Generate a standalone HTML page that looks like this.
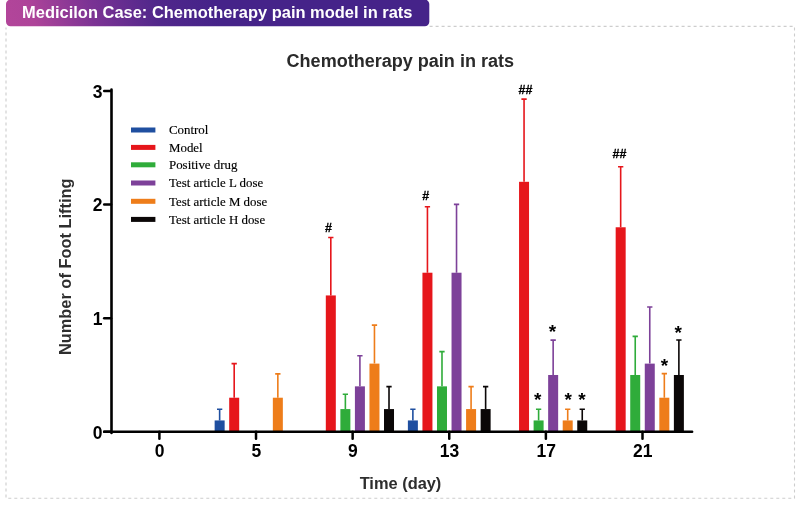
<!DOCTYPE html>
<html lang="en">
<head>
<meta charset="utf-8">
<title>Medicilon Case: Chemotherapy pain model in rats</title>
<style>
html,body{margin:0;padding:0;background:#fff;}
body{width:800px;height:505px;overflow:hidden;position:relative;font-family:"Liberation Sans",Arial,sans-serif;}
svg{position:absolute;left:0;top:0;display:block;}
.hd{font:bold 16.47px "Liberation Sans",Arial,sans-serif;fill:#fff;}
.tt{font:bold 18.05px "Liberation Sans",Arial,sans-serif;fill:#2a2a2a;}
.ax{font:bold 16.4px "Liberation Sans",Arial,sans-serif;fill:#2e2e2e;}
.tk{font:bold 17.5px "Liberation Sans",Arial,sans-serif;fill:#000;}
.lg{font:12.9px "Liberation Serif","Times New Roman",serif;fill:#000;stroke:#000;stroke-width:.15px;}
.hs{font:bold 12.5px "Liberation Sans",Arial,sans-serif;fill:#000;stroke:#000;stroke-width:.3px;}
.st{font:bold 19px "Liberation Sans",Arial,sans-serif;fill:#000;}
</style>
</head>
<body>
<svg width="800" height="505" viewBox="0 0 800 505">
<defs>
<linearGradient id="hg" gradientUnits="userSpaceOnUse" x1="6" y1="13" x2="199.8" y2="-46.4">
<stop offset="0" stop-color="#b2459a"/>
<stop offset="0.12" stop-color="#ae4499"/>
<stop offset="0.40" stop-color="#7c3394"/>
<stop offset="0.72" stop-color="#50278b"/>
<stop offset="1" stop-color="#452389"/>
</linearGradient>
</defs>
<path d="M429.6 26.4H794.5V498.3H6V27.5" fill="none" stroke="#cdcdcd" stroke-width="1.1" stroke-dasharray="3 3"/>
<rect x="6" y="-0.4" width="423.3" height="26.7" rx="4.5" ry="4.5" fill="url(#hg)"/>
<text x="22.1" y="17.6" class="hd">Medicilon Case: Chemotherapy pain model in rats</text>
<text x="400.3" y="66.8" text-anchor="middle" class="tt">Chemotherapy pain in rats</text>
<text transform="translate(71 266.8) rotate(-90)" text-anchor="middle" class="ax">Number of Foot Lifting</text>
<text x="400.5" y="489" text-anchor="middle" class="ax">Time (day)</text>
<rect x="214.64" y="420.44" width="10" height="11.36" fill="#1f4fa0"/>
<path d="M219.64 420.44V409.3M216.99 409.3H222.29" stroke="#1f4fa0" stroke-width="1.6" fill="none"/>
<rect x="229.19" y="397.71" width="10" height="34.09" fill="#e6161b"/>
<path d="M234.19 397.71V363.6M231.54 363.6H236.84" stroke="#e6161b" stroke-width="1.6" fill="none"/>
<rect x="272.84" y="397.71" width="10" height="34.09" fill="#ee7d1a"/>
<path d="M277.84 397.71V373.9M275.19 373.9H280.49" stroke="#ee7d1a" stroke-width="1.6" fill="none"/>
<rect x="325.81" y="295.44" width="10" height="136.36" fill="#e6161b"/>
<path d="M330.81 295.44V237.5M328.17 237.5H333.46" stroke="#e6161b" stroke-width="1.6" fill="none"/>
<rect x="340.37" y="409.07" width="10" height="22.73" fill="#2fac3a"/>
<path d="M345.37 409.07V394.2M342.72 394.2H348.01" stroke="#2fac3a" stroke-width="1.6" fill="none"/>
<rect x="354.91" y="386.35" width="10" height="45.45" fill="#7d4199"/>
<path d="M359.91 386.35V355.8M357.26 355.8H362.56" stroke="#7d4199" stroke-width="1.6" fill="none"/>
<rect x="369.46" y="363.62" width="10" height="68.18" fill="#ee7d1a"/>
<path d="M374.46 363.62V325.1M371.81 325.1H377.11" stroke="#ee7d1a" stroke-width="1.6" fill="none"/>
<rect x="384.01" y="409.07" width="10" height="22.73" fill="#0b0707"/>
<path d="M389.01 409.07V386.6M386.37 386.6H391.66" stroke="#0b0707" stroke-width="1.6" fill="none"/>
<rect x="407.88" y="420.44" width="10" height="11.36" fill="#1f4fa0"/>
<path d="M412.88 420.44V409.2M410.24 409.2H415.53" stroke="#1f4fa0" stroke-width="1.6" fill="none"/>
<rect x="422.44" y="272.72" width="10" height="159.08" fill="#e6161b"/>
<path d="M427.44 272.72V206.8M424.79 206.8H430.08" stroke="#e6161b" stroke-width="1.6" fill="none"/>
<rect x="436.99" y="386.35" width="10" height="45.45" fill="#2fac3a"/>
<path d="M441.99 386.35V351.6M439.34 351.6H444.63" stroke="#2fac3a" stroke-width="1.6" fill="none"/>
<rect x="451.53" y="272.72" width="10" height="159.08" fill="#7d4199"/>
<path d="M456.53 272.72V204.4M453.88 204.4H459.18" stroke="#7d4199" stroke-width="1.6" fill="none"/>
<rect x="466.08" y="409.07" width="10" height="22.73" fill="#ee7d1a"/>
<path d="M471.08 409.07V386.6M468.44 386.6H473.73" stroke="#ee7d1a" stroke-width="1.6" fill="none"/>
<rect x="480.63" y="409.07" width="10" height="22.73" fill="#0b0707"/>
<path d="M485.63 409.07V386.6M482.99 386.6H488.28" stroke="#0b0707" stroke-width="1.6" fill="none"/>
<rect x="519.05" y="181.81" width="10" height="249.99" fill="#e6161b"/>
<path d="M524.05 181.81V99.1M521.40 99.1H526.70" stroke="#e6161b" stroke-width="1.6" fill="none"/>
<rect x="533.61" y="420.44" width="10" height="11.36" fill="#2fac3a"/>
<path d="M538.61 420.44V409.3M535.96 409.3H541.25" stroke="#2fac3a" stroke-width="1.6" fill="none"/>
<rect x="548.15" y="374.99" width="10" height="56.81" fill="#7d4199"/>
<path d="M553.15 374.99V340.1M550.50 340.1H555.80" stroke="#7d4199" stroke-width="1.6" fill="none"/>
<rect x="562.71" y="420.44" width="10" height="11.36" fill="#ee7d1a"/>
<path d="M567.71 420.44V409.3M565.06 409.3H570.36" stroke="#ee7d1a" stroke-width="1.6" fill="none"/>
<rect x="577.25" y="420.44" width="10" height="11.36" fill="#0b0707"/>
<path d="M582.25 420.44V409.3M579.61 409.3H584.90" stroke="#0b0707" stroke-width="1.6" fill="none"/>
<rect x="615.67" y="227.27" width="10" height="204.53" fill="#e6161b"/>
<path d="M620.67 227.27V166.7M618.02 166.7H623.32" stroke="#e6161b" stroke-width="1.6" fill="none"/>
<rect x="630.23" y="374.99" width="10" height="56.81" fill="#2fac3a"/>
<path d="M635.23 374.99V336.4M632.58 336.4H637.88" stroke="#2fac3a" stroke-width="1.6" fill="none"/>
<rect x="644.77" y="363.62" width="10" height="68.18" fill="#7d4199"/>
<path d="M649.77 363.62V307.0M647.12 307.0H652.42" stroke="#7d4199" stroke-width="1.6" fill="none"/>
<rect x="659.33" y="397.71" width="10" height="34.09" fill="#ee7d1a"/>
<path d="M664.33 397.71V373.6M661.68 373.6H666.98" stroke="#ee7d1a" stroke-width="1.6" fill="none"/>
<rect x="673.88" y="374.99" width="10" height="56.81" fill="#0b0707"/>
<path d="M678.88 374.99V340.0M676.23 340.0H681.52" stroke="#0b0707" stroke-width="1.6" fill="none"/>
<path d="M111.5 89.6V432.90000000000003M104.2 431.8H692.1" stroke="#000" stroke-width="2.6" fill="none" stroke-linecap="round"/>
<path d="M104.2 431.8H111" stroke="#000" stroke-width="2.5" stroke-linecap="round"/>
<text x="102.6" y="438.50" text-anchor="end" class="tk">0</text>
<path d="M104.2 318.17H111" stroke="#000" stroke-width="2.5" stroke-linecap="round"/>
<text x="102.6" y="324.87" text-anchor="end" class="tk">1</text>
<path d="M104.2 204.54H111" stroke="#000" stroke-width="2.5" stroke-linecap="round"/>
<text x="102.6" y="211.24" text-anchor="end" class="tk">2</text>
<path d="M104.2 90.91H111" stroke="#000" stroke-width="2.5" stroke-linecap="round"/>
<text x="102.6" y="97.61" text-anchor="end" class="tk">3</text>
<path d="M159.40 431.8V438.8" stroke="#000" stroke-width="2.5" stroke-linecap="round"/>
<text x="159.70" y="457.3" text-anchor="middle" class="tk">0</text>
<path d="M256.02 431.8V438.8" stroke="#000" stroke-width="2.5" stroke-linecap="round"/>
<text x="256.32" y="457.3" text-anchor="middle" class="tk">5</text>
<path d="M352.64 431.8V438.8" stroke="#000" stroke-width="2.5" stroke-linecap="round"/>
<text x="352.94" y="457.3" text-anchor="middle" class="tk">9</text>
<path d="M449.26 431.8V438.8" stroke="#000" stroke-width="2.5" stroke-linecap="round"/>
<text x="449.56" y="457.3" text-anchor="middle" class="tk">13</text>
<path d="M545.88 431.8V438.8" stroke="#000" stroke-width="2.5" stroke-linecap="round"/>
<text x="546.18" y="457.3" text-anchor="middle" class="tk">17</text>
<path d="M642.50 431.8V438.8" stroke="#000" stroke-width="2.5" stroke-linecap="round"/>
<text x="642.80" y="457.3" text-anchor="middle" class="tk">21</text>
<rect x="131" y="127.50" width="24.4" height="5" fill="#1f4fa0"/>
<text x="169" y="134.20" class="lg">Control</text>
<rect x="131" y="144.90" width="24.4" height="5" fill="#e6161b"/>
<text x="169" y="151.60" class="lg">Model</text>
<rect x="131" y="162.30" width="24.4" height="5" fill="#2fac3a"/>
<text x="169" y="169.00" class="lg">Positive drug</text>
<rect x="131" y="180.50" width="24.4" height="5" fill="#7d4199"/>
<text x="169" y="187.20" class="lg">Test article L dose</text>
<rect x="131" y="198.80" width="24.4" height="5" fill="#ee7d1a"/>
<text x="169" y="205.50" class="lg">Test article M dose</text>
<rect x="131" y="216.90" width="24.4" height="5" fill="#0b0707"/>
<text x="169" y="223.60" class="lg">Test article H dose</text>
<text x="328.4" y="232" text-anchor="middle" class="hs">#</text>
<text x="425.8" y="200" text-anchor="middle" class="hs">#</text>
<text x="525.4" y="94.2" text-anchor="middle" class="hs">##</text>
<text x="619.4" y="158.4" text-anchor="middle" class="hs">##</text>
<text x="537.7" y="406.30" text-anchor="middle" class="st">*</text>
<text x="552.5" y="338.40" text-anchor="middle" class="st">*</text>
<text x="568.3" y="406.30" text-anchor="middle" class="st">*</text>
<text x="581.9" y="406.30" text-anchor="middle" class="st">*</text>
<text x="664.5" y="372.10" text-anchor="middle" class="st">*</text>
<text x="678.1" y="338.70" text-anchor="middle" class="st">*</text>
</svg>
</body>
</html>
